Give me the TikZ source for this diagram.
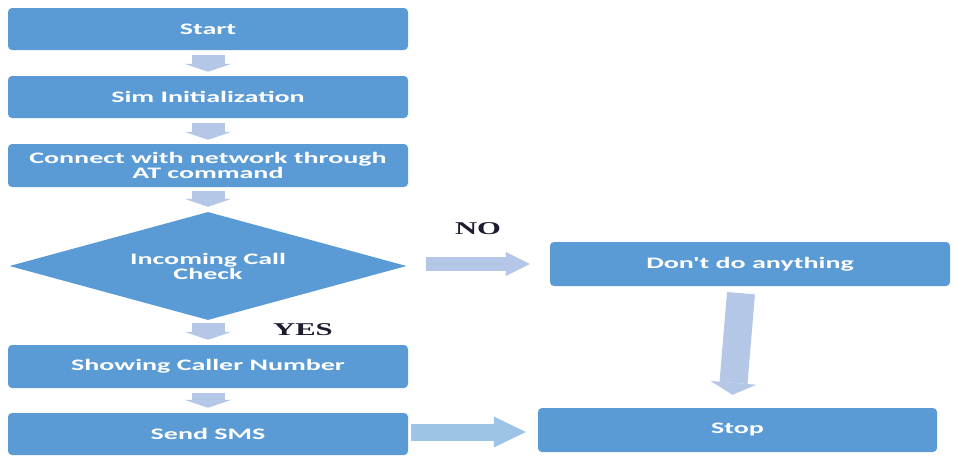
\documentclass[tikz,border=0pt]{standalone}
\usepackage{fontspec}
\newfontfamily\boxfont[FakeStretch=1.75]{Carlito}
\newfontfamily\lblfont[FakeStretch=1.7]{Liberation Serif}
\usetikzlibrary{shapes.geometric,arrows.meta}
\definecolor{boxblue}{HTML}{5B9BD5}
\definecolor{arrowc}{HTML}{B4C7E7}
\definecolor{arrowd}{HTML}{9DC3E6}
\definecolor{lblc}{HTML}{1C1C30}
\tikzset{
  stepbox/.style={rectangle, rounded corners=4pt, fill=boxblue, draw=none,
    minimum width=400pt, minimum height=42pt, inner sep=0pt,
    text=white, font=\boxfont\bfseries\fontsize{16}{15}\selectfont, align=center},
  decbox/.style={diamond, aspect=3.676, fill=boxblue, draw=none, minimum width=397pt,
    minimum height=108pt, inner sep=0pt, text=white,
    font=\boxfont\bfseries\fontsize{16}{15}\selectfont, align=center},
  varrow/.style={draw=arrowc, line width=33pt,
    -{Triangle[width=47pt,length=8pt,line width=0pt,fill=arrowc]}},
  tarrow/.style={draw=arrowc, line width=28pt,
    -{Triangle[width=46pt,length=12pt,line width=0pt,fill=arrowc]}},
  harrow/.style={draw=arrowc, line width=14pt,
    -{Triangle[width=24pt,length=24pt,line width=0pt,fill=arrowc]}},
  barrow/.style={draw=arrowd, line width=17pt,
    -{Triangle[width=31pt,length=32pt,line width=0pt,fill=arrowd]}},
  lbl/.style={text=lblc, font=\lblfont\bfseries\fontsize{18}{18}\selectfont, inner sep=0pt}
}
\begin{document}
\begin{tikzpicture}[x=1pt,y=-1pt]
\useasboundingbox[fill=white] (0,0) rectangle (957,455);
\node[stepbox] (start) at (208,29) {Start};
\node[stepbox] (sim) at (208,97) {Sim Initialization};
\node[stepbox, minimum height=43pt] (conn) at (208,165.5) {Connect with network through\\AT command};
\node[decbox] (dec) at (208,266) {Incoming Call\\Check};
\node[stepbox, minimum height=43pt] (show) at (208,366.5) {Showing Caller Number};
\node[stepbox] (sms) at (208,434) {Send SMS};
\node[stepbox, minimum height=44pt] (dont) at (750,264) {Don't do anything};
\node[stepbox, minimum width=399pt, minimum height=44pt] (stop) at (737.5,430) {Stop};
\node[lbl] (yes) at (303,330) {YES};
\node[lbl] (no) at (478,229) {NO};
\draw[varrow] ([yshift=-5pt]start.south) -- ([yshift=4pt]sim.north);
\draw[varrow] ([yshift=-5pt]sim.south) -- ([yshift=4pt]conn.north);
\draw[varrow] ([yshift=-4pt]conn.south) -- ([yshift=5pt]dec.north);
\draw[varrow] ([yshift=-3pt]dec.south) -- ([yshift=5pt]show.north);
\draw[varrow] ([yshift=-5pt]show.south) -- ([yshift=5pt]sms.north);
\draw[harrow] ([xshift=19pt,yshift=2pt]dec.east) -- ([xshift=-20pt]dont.west);
\draw[tarrow] ([xshift=-9pt,yshift=-7pt]dont.south) -- ([xshift=-5pt,yshift=13pt]stop.north);
\draw[barrow] ([xshift=3pt,yshift=2pt]sms.east) -- ([xshift=-12pt,yshift=-2pt]stop.west);
\end{tikzpicture}
\end{document}
